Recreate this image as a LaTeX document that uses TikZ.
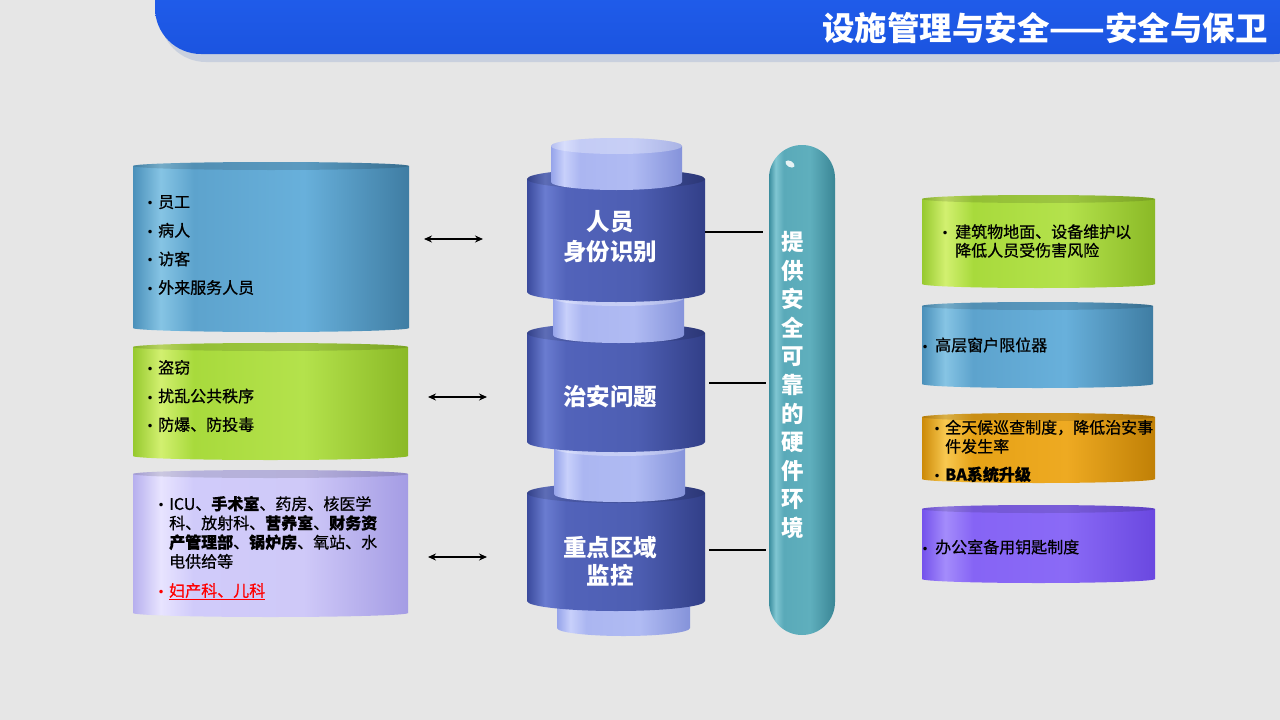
\documentclass[tikz,border=0pt]{standalone}
\usepackage{fontspec}
\setmainfont{Noto Sans CJK SC}
\newfontfamily\semib{Noto Sans CJK SC}[FakeBold=0.7]
\newfontfamily\dejavu{DejaVu Sans}
\usetikzlibrary{calc,arrows.meta}
\definecolor{bg}{HTML}{E6E6E6}
\definecolor{hdrtop}{HTML}{2464F4}
\definecolor{hdrbot}{HTML}{1B54E0}
\definecolor{hdrshadow}{HTML}{C9D0DE}
\newcommand\mkshade[6]{%
 \definecolor{#1-a}{HTML}{#2}\definecolor{#1-b}{HTML}{#3}\definecolor{#1-c}{HTML}{#4}\definecolor{#1-d}{HTML}{#5}\definecolor{#1-e}{HTML}{#6}%
 \pgfdeclarehorizontalshading{#1}{100bp}{color(0bp)=(#1-a); color(25bp)=(#1-a); color(30bp)=(#1-b); color(36bp)=(#1-c); color(56bp)=(#1-d); color(75bp)=(#1-e); color(100bp)=(#1-e)}}
\mkshade{shBlue}{4A90BA}{86C4E4}{5DA3CD}{68B0DB}{3F7DA3}
\mkshade{shGreen}{96C92E}{D2F070}{A8DA3C}{B4E24C}{8AB926}
\mkshade{shLav}{B6AFEE}{E8E4FF}{D0CBFA}{CFC9F8}{A49CE4}
\mkshade{shDark}{3A4A9C}{6A7CD0}{5263BA}{4D5EB2}{323F88}
\mkshade{shLight}{96A4EA}{C8D0FB}{ABB6F1}{B0BBF3}{8593DA}
\mkshade{shTeal}{3B8E9E}{80C6D2}{5AAAB9}{5FAFBD}{3A8695}
\mkshade{shOrange}{CC8A08}{F8C850}{E6A216}{EEAA22}{C08006}
\mkshade{shPurple}{7452EC}{A48CFB}{8664F5}{8A6AF6}{6A48E0}
% #1 name, #2 x1, #3 y1, #4 x2, #5 y2, #6 ellipse half-height, #7 shading, #8 top face style
\newcommand\mycyl[8]{%
 \pgfmathsetmacro\cyA{(#2+#4)/2}%
 \pgfmathsetmacro\cyB{(#3+#5)/2}%
 \pgfmathsetmacro\cyR{(#4-#2)/2}%
 \pgfmathsetmacro\cyW{#4-#2}%
 \pgfmathsetmacro\cyH{#5-#3}%
 \shade[shading=#7] (#2,#3+#6) arc[start angle=180,end angle=360,x radius=\cyR,y radius=#6] -- (#4,#5-#6) arc[start angle=0,end angle=180,x radius=\cyR,y radius=#6] -- cycle;
 \fill[#8] (\cyA,#3+#6) ellipse[x radius=\cyR,y radius=#6];
 \node[inner sep=0pt,outer sep=0pt,minimum width=\cyW pt,minimum height=\cyH pt] (#1) at (\cyA,\cyB) {};
}
\newcommand\bul[1][10pt]{\makebox[#1][l]{\hspace*{-1.5pt}\dejavu\fontsize{12}{12}\selectfont •}}
\tikzset{
 lefttxt/.style={anchor=west,align=left,inner sep=0pt,font=\semib\fontsize{16}{28.6}\selectfont},
 midtxt/.style={align=center,inner sep=0pt,text=white,font=\bfseries\fontsize{23.5}{30}\selectfont},
 dbl/.style={{Stealth[length=8pt,width=7pt]}-{Stealth[length=8pt,width=7pt]},line width=1.5pt},
 link/.style={line width=1.5pt},
 facedark/.style={black,opacity=.12},
 facelight/.style={white,opacity=.3}
}
\begin{document}
\begin{tikzpicture}[x=1pt,y=-1pt]
\useasboundingbox (0,0) rectangle (1280,720);
\fill[bg] (0,0) rectangle (1280,720);
% header
\fill[hdrshadow,rounded corners=46pt] (160,-60) rectangle (1320,62);
\shade[top color=hdrtop,bottom color=hdrbot,rounded corners=46pt] (155,-60) rectangle (1320,54);
\node[anchor=east,inner sep=0pt,text=white,font=\bfseries\fontsize{32.5}{32.5}\selectfont] (T) at (1268,28) {设施管理与安全——安全与保卫};
% left boxes
\mycyl{L1}{133}{162}{409}{332}{4}{shBlue}{facedark}
\mycyl{L2}{133}{343}{408}{460}{4}{shGreen}{facedark}
\mycyl{L3}{133}{470}{408}{617}{4}{shLav}{facedark}
\node[lefttxt] (L1t) at (148,245) {\bul 员工\\\bul 病人\\\bul 访客\\\bul 外来服务人员};
\node[lefttxt] (L2t) at (148,396) {\bul 盗窃\\\bul 扰乱公共秩序\\\bul 防爆、防投毒};
\node[lefttxt,font=\semib\fontsize{16}{19.2}\selectfont] (L3t) at (159,548) {\bul ICU、\textbf{手术室}、药房、核医学\\\hspace*{10pt}科、放射科、\textbf{营养室}、\textbf{财务资}\\\hspace*{10pt}\textbf{产管理部}、\textbf{锅炉房}、氧站、水\\\hspace*{10pt}电供给等\\[10pt]\textcolor{red}{\bul\underline{妇产科、儿科}}};
% middle column
\mycyl{C3}{557}{590}{690}{636}{8}{shLight}{facelight}
\mycyl{M3}{527}{483}{705}{611}{10}{shDark}{facedark}
\mycyl{C2}{554}{440}{685}{502}{8}{shLight}{facelight}
\mycyl{M2}{527}{323}{705}{452}{10}{shDark}{facedark}
\mycyl{C1}{553}{290}{684}{343}{8}{shLight}{facelight}
\mycyl{M1}{527}{169}{705}{302}{10}{shDark}{facedark}
\mycyl{C0}{551}{138}{682}{190}{8}{shLight}{facelight}
\node[midtxt] (M1t) at (610,237) {人员\\身份识别};
\node[midtxt] (M2t) at (610,397) {治安问题};
\node[midtxt,font=\bfseries\fontsize{23.5}{28}\selectfont] (M3t) at (610,561) {重点区域\\监控};
% pill
\shade[shading=shTeal,rounded corners=33pt] (769,145) rectangle (835,635);
\fill[white,opacity=.85,rotate around={-30:(790,164)}] (790,164) ellipse[x radius=5,y radius=3];
\node[inner sep=0pt,minimum width=66pt,minimum height=490pt] (P) at (802,390) {};
\node[align=center,inner sep=0pt,text=white,font=\bfseries\fontsize{22.5}{28.6}\selectfont] (Pt) at (793,385) {提\\供\\安\\全\\可\\靠\\的\\硬\\件\\环\\境};
% right boxes
\mycyl{R1}{922}{195}{1155}{288}{4}{shGreen}{facedark}
\mycyl{R2}{922}{302}{1153}{388}{4}{shBlue}{facedark}
\mycyl{R3}{922}{413}{1155}{483}{4}{shOrange}{facedark}
\mycyl{R4}{922}{505}{1155}{583}{4}{shPurple}{facedark}
\node[lefttxt,font=\semib\fontsize{16}{18.6}\selectfont] (R1t) at (943,241) {\bul[12pt]建筑物地面、设备维护以\\\hspace*{12pt}降低人员受伤害风险};
\node[lefttxt] (R2t) at (923,345) {\bul[12pt]高层窗户限位器};
\node[lefttxt,font=\semib\fontsize{16}{19}\selectfont] (R3t) at (935,451) {\bul 全天候巡查制度，降低治安事\\\hspace*{10pt}件发生率\\[9pt]\bul \textbf{BA系统升级}};
\node[lefttxt] (R4t) at (923,547) {\bul[12pt]办公室备用钥匙制度};
% connectors
\draw[dbl] ($(L1.east)+(15,-8)$) -- ($(M1.west)+(-44,3.5)$);
\draw[dbl] ($(L2.east)+(20,-4.5)$) -- ($(M2.west)+(-40,9.5)$);
\draw[dbl] ($(L3.east)+(20,13.5)$) -- ($(M3.west)+(-40,10)$);
\draw[link] ($(M1.east)+(0,-3.5)$) -- ($(P.west)+(-6,-158)$);
\draw[link] ($(M2.east)+(4,-4.5)$) -- ($(P.west)+(-3,-7)$);
\draw[link] ($(M3.east)+(4,3)$) -- ($(P.west)+(-3,160)$);
\end{tikzpicture}
\end{document}
